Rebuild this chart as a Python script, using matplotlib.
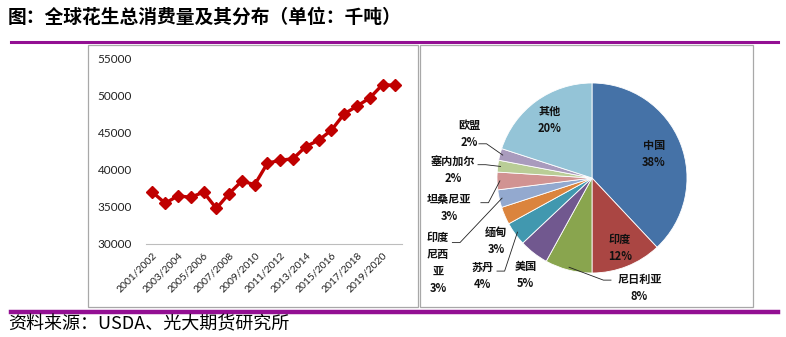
import matplotlib
matplotlib.use('Agg')
import matplotlib.pyplot as plt
import numpy as np
from matplotlib.patches import Rectangle
from matplotlib.lines import Line2D

plt.rcParams['font.family'] = ['Noto Sans CJK SC', 'DejaVu Sans']

# ── 数据 ──
seasons = ['2001/2002', '2002/2003', '2003/2004', '2004/2005', '2005/2006',
           '2006/2007', '2007/2008', '2008/2009', '2009/2010', '2010/2011',
           '2011/2012', '2012/2013', '2013/2014', '2014/2015', '2015/2016',
           '2016/2017', '2017/2018', '2018/2019', '2019/2020', '2020/2021']
consumption = [37000, 35500, 36500, 36300, 37000, 34800, 36800, 38500, 38000, 40900,
               41300, 41500, 43150, 44000, 45350, 47550, 48600, 49700, 51500, 51400]

regions = ['中国', '印度', '尼日利亚', '美国', '苏丹', '缅甸', '印度\n尼西\n亚',
           '坦桑尼亚', '塞内加尔', '欧盟', '其他']
shares = [38, 12, 8, 5, 4, 3, 3, 3, 2, 2, 20]
share_labels = ['38%', '12%', '8%', '5%', '4%', '3%', '3%', '3%', '2%', '2%', '20%']
pie_colors = ['#4572A7', '#AA4643', '#89A54E', '#71588F', '#4198AF', '#DB843D',
              '#93A9CF', '#D19392', '#B9CD96', '#A99BBD', '#94C4D7']

W, H = 786, 337
PURPLE = '#930f93'


def fx(x):
    return x / W


def fy(y):
    return 1 - y / H


fig = plt.figure(figsize=(W / 100, H / 100), dpi=100)

# 标题 / 来源
fig.text(fx(8), fy(17), '图：全球花生总消费量及其分布（单位：千吨）', fontsize=13.5,
         fontweight='bold', va='center', ha='left')
fig.text(fx(8), fy(324), '资料来源：USDA、光大期货研究所', fontsize=13,
         va='center', ha='left')

# 紫色分隔线
fig.add_artist(Line2D([fx(11), fx(778)], [fy(41.5), fy(41.5)], color=PURPLE, lw=2.2))
fig.add_artist(Line2D([fx(11), fx(778)], [fy(311.5), fy(311.5)], color=PURPLE, lw=3.2))

# 面板边框
for x0, x1 in [(87.5, 418), (420, 752.5)]:
    fig.add_artist(Rectangle((fx(x0), fy(306.5)), fx(x1) - fx(x0), fy(45.5) - fy(306.5),
                             fill=False, edgecolor='#a8a8a8', lw=0.9))

# ================================================================
# 左：消费量折线
# ================================================================
ax = fig.add_axes([fx(146), fy(244), fx(401.7) - fx(146), fy(58.7) - fy(244)])
x = np.arange(len(seasons))
ax.plot(x, consumption, color='#C00000', lw=2.4, marker='D', markersize=6,
        markeredgecolor='#C00000')
ax.set_xlim(-0.5, len(seasons) - 0.5)
ax.set_ylim(30000, 55000)
ax.set_yticks(np.arange(30000, 55001, 5000))
ax.set_yticklabels([f'{v}' for v in range(30000, 55001, 5000)], family='Lato', fontsize=8.5,
                   color='#222222')
ax.set_xticks(x[::2])
ax.set_xticklabels(seasons[::2], rotation=45, ha='right', va='top', rotation_mode='anchor',
                   family='Lato', fontsize=7.5, color='#222222')
ax.tick_params(axis='y', length=0, pad=10)
ax.tick_params(axis='x', length=0, pad=5)
for s in ['top', 'right', 'left']:
    ax.spines[s].set_visible(False)
ax.spines['bottom'].set_color('#bdbdbd')
ax.patch.set_alpha(0)

# ================================================================
# 右：分布饼图
# ================================================================
cx, cy, r = 592, 178, 95
pax = fig.add_axes([fx(cx - r), fy(cy + r), fx(2 * r), fy(0) - fy(2 * r)])
wedges, _ = pax.pie(shares, colors=pie_colors, startangle=90, counterclock=False,
                    wedgeprops=dict(edgecolor='white', linewidth=0.6))
pax.set_xlim(-1, 1)
pax.set_ylim(-1, 1)
pax.set_aspect('auto')

cum = np.cumsum([0] + shares)
mid_deg = [(cum[i] + cum[i + 1]) / 2 / sum(shares) * 360 for i in range(len(shares))]

txt_kw = dict(fontsize=8, fontweight='bold', ha='center', va='center',
              color='#111111', linespacing=1.4, clip_on=False)

# 扇区内标签
for i, rr in [(0, 0.70), (1, 0.79), (10, 0.76)]:
    a = np.radians(mid_deg[i])
    pax.text(rr * np.sin(a), rr * np.cos(a), f'{regions[i]}\n{share_labels[i]}', **txt_kw)

# 扇区外标签：文字位置，引线起点（无引线为 None）
outside = {
    9: ((-1.295, 0.46), (-1.19, 0.36)),
    8: ((-1.46, 0.08), (-1.20, 0.14)),
    7: ((-1.50, -0.32), (-1.17, -0.26)),
    6: ((-1.62, -0.89), (-1.47, -0.68)),
    5: ((-1.01, -0.66), None),
    4: ((-1.15, -1.03), (-1.00, -0.98)),
    3: ((-0.70, -1.02), None),
    2: ((0.50, -1.16), (0.20, -1.075)),
}
for i, (tpos, lstart) in outside.items():
    pax.text(tpos[0], tpos[1], f'{regions[i]}\n{share_labels[i]}', **txt_kw)
    if lstart is not None:
        a = np.radians(mid_deg[i])
        ex, ey = 0.97 * np.sin(a), 0.97 * np.cos(a)
        step = 0.08 if ex > lstart[0] else -0.08
        pax.plot([lstart[0], lstart[0] + step, ex], [lstart[1], lstart[1], ey],
                 color='#222222', lw=0.6, clip_on=False)

fig.savefig('out.png', dpi=100)
